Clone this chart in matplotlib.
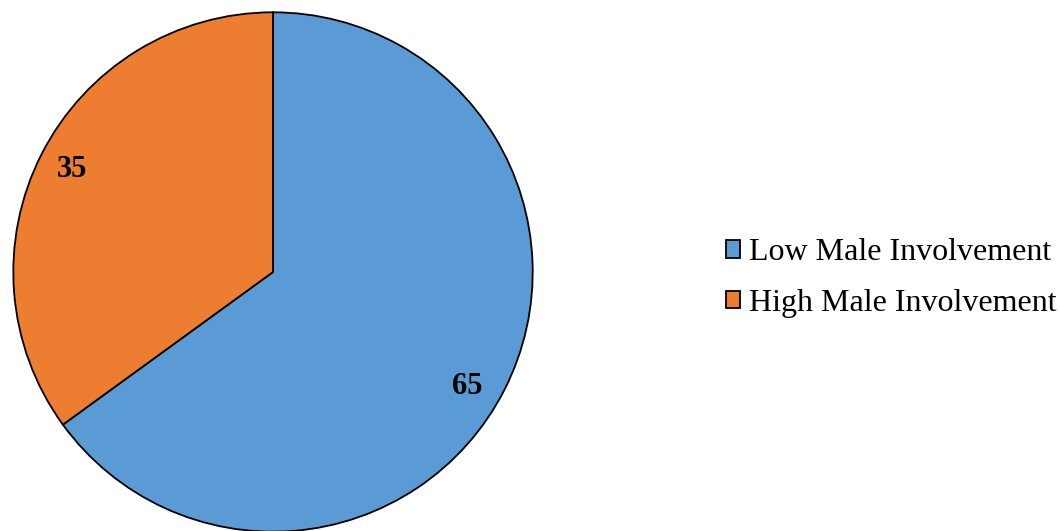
import matplotlib
matplotlib.use("Agg")
import matplotlib.pyplot as plt
import numpy as np

labels = ["Low Male Involvement", "High Male Involvement"]
values = [65, 35]
colors = ["#5B9BD5", "#ED7D31"]

plt.rcParams['font.family'] = ['Liberation Serif', 'DejaVu Serif']

fig = plt.figure(figsize=(10.6, 5.31), dpi=100)
W, H = 1060, 531
cx, cy, r = 273, 272, 261
ax = fig.add_axes([(cx - r) / W, (H - cy - r) / H, 2 * r / W, 2 * r / H])

wedges, texts, autotexts = ax.pie(
    values, colors=colors, startangle=90, counterclock=False,
    autopct=lambda p: f"{p:.0f}", pctdistance=0.87, radius=1.0,
    wedgeprops=dict(edgecolor="black", linewidth=1.3),
    textprops=dict(fontsize=22, fontweight="bold", color="black"))

# nudge the large-slice label slightly clockwise, as in the reference
w = wedges[0]
mid = np.deg2rad((w.theta1 + w.theta2) / 2 - 3.5)
autotexts[0].set_position((0.87 * np.cos(mid), 0.87 * np.sin(mid)))

ax.set_xlim(-1.005, 1.005)
ax.set_ylim(-1.005, 1.005)
ax.set_aspect("equal")
ax.axis("off")

fig.legend(wedges, labels, loc="center left", bbox_to_anchor=(726 / W, 1 - 278 / H),
           frameon=False, fontsize=23, handlelength=0.45, handleheight=0.45,
           handletextpad=0.28, labelspacing=0.67, borderaxespad=0, borderpad=0)

fig.savefig("out.png", dpi=100)
